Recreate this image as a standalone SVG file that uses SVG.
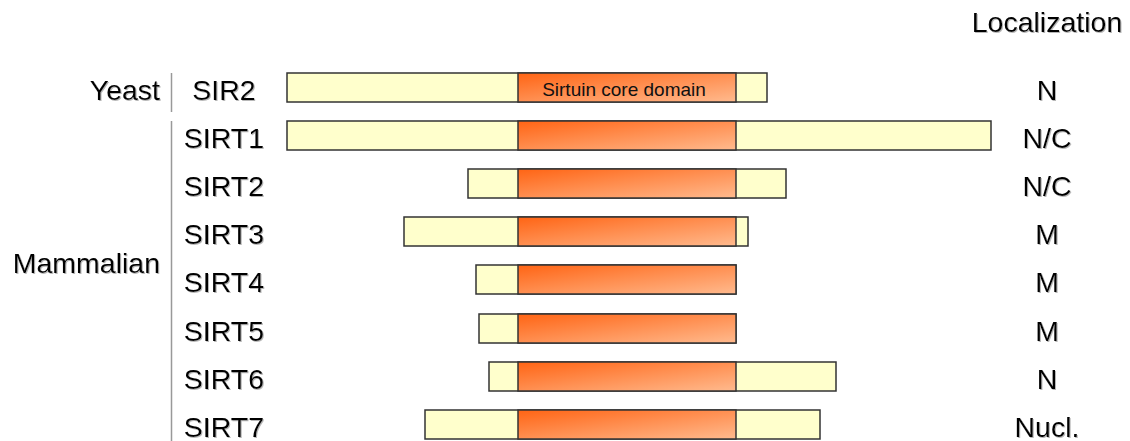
<svg xmlns="http://www.w3.org/2000/svg" width="1130" height="441" viewBox="0 0 1130 441">
<defs>
<linearGradient id="core" x1="0" y1="0" x2="1" y2="1" gradientUnits="objectBoundingBox">
<stop offset="0" stop-color="#FF6414"/>
<stop offset="1" stop-color="#FFBA8E"/>
</linearGradient>
<filter id="sh" x="-10%" y="-10%" width="130%" height="140%">
<feDropShadow dx="1" dy="1" stdDeviation="0.4" flood-color="#999" flood-opacity="0.7"/>
</filter>
<style>
.t{font-family:"Liberation Sans",Arial,sans-serif;font-size:28.5px;fill:#000;filter:url(#sh)}
.m{text-anchor:middle}
.e{text-anchor:end}
.s{font-family:"Liberation Sans",Arial,sans-serif;font-size:19px;fill:#111;text-anchor:middle}
.y{fill:#FFFFCC;stroke:#333;stroke-width:1.5}
.c{fill:url(#core);stroke:#333;stroke-width:1.5}
.v{stroke:#999;stroke-width:1.5}
</style>
</defs>
<text class="t" x="1047" y="32" text-anchor="middle">Localization</text>
<text class="t e" x="160" y="100">Yeast</text>
<text class="t e" x="160" y="273">Mammalian</text>
<g id="connectors">
<line class="v" x1="171.5" y1="73" x2="171.5" y2="112"/>
<line class="v" x1="171.5" y1="121" x2="171.5" y2="441"/>
</g>
<g id="SIR2">
<rect class="y" x="287" y="73" width="480" height="29"/>
<rect class="c" x="518" y="73" width="218" height="29"/>
<text class="s" x="624" y="96">Sirtuin core domain</text>
<text class="t m" x="224" y="100">SIR2</text>
<text class="t m" x="1047" y="100">N</text>
</g>
<g id="SIRT1">
<rect class="y" x="287" y="121" width="704" height="29"/>
<rect class="c" x="518" y="121" width="218" height="29"/>
<text class="t m" x="224" y="148">SIRT1</text>
<text class="t m" x="1047" y="148">N/C</text>
</g>
<g id="SIRT2">
<rect class="y" x="468" y="169" width="318" height="29"/>
<rect class="c" x="518" y="169" width="218" height="29"/>
<text class="t m" x="224" y="196">SIRT2</text>
<text class="t m" x="1047" y="196">N/C</text>
</g>
<g id="SIRT3">
<rect class="y" x="404" y="217" width="344" height="29"/>
<rect class="c" x="518" y="217" width="218" height="29"/>
<text class="t m" x="224" y="244">SIRT3</text>
<text class="t m" x="1047" y="244">M</text>
</g>
<g id="SIRT4">
<rect class="y" x="476" y="265" width="260" height="29"/>
<rect class="c" x="518" y="265" width="218" height="29"/>
<text class="t m" x="224" y="292">SIRT4</text>
<text class="t m" x="1047" y="292">M</text>
</g>
<g id="SIRT5">
<rect class="y" x="479" y="314" width="257" height="29"/>
<rect class="c" x="518" y="314" width="218" height="29"/>
<text class="t m" x="224" y="341">SIRT5</text>
<text class="t m" x="1047" y="341">M</text>
</g>
<g id="SIRT6">
<rect class="y" x="489" y="362" width="347" height="29"/>
<rect class="c" x="518" y="362" width="218" height="29"/>
<text class="t m" x="224" y="389">SIRT6</text>
<text class="t m" x="1047" y="389">N</text>
</g>
<g id="SIRT7">
<rect class="y" x="425" y="410" width="395" height="29"/>
<rect class="c" x="518" y="410" width="218" height="29"/>
<text class="t m" x="224" y="437">SIRT7</text>
<text class="t m" x="1047" y="437">Nucl.</text>
</g>
</svg>
